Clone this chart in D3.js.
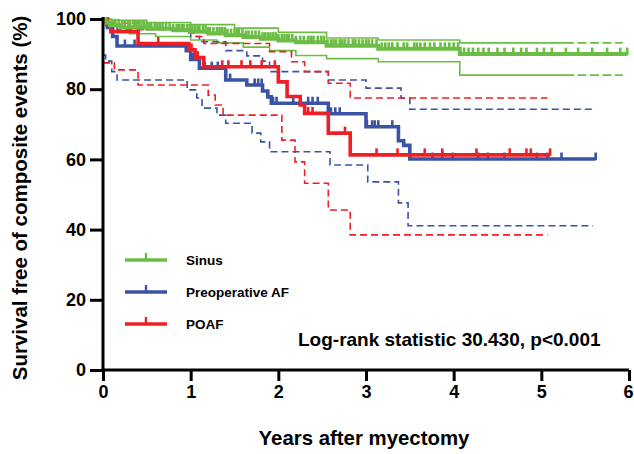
<!DOCTYPE html>
<html>
<head>
<meta charset="utf-8">
<script src="https://cdn.jsdelivr.net/npm/d3@7"></script>
<style>
  body { margin: 0; background: #fff; }
  svg { display: block; font-family: "Liberation Sans", Arial, sans-serif; }
</style>
</head>
<body>
<svg width="634" height="454"></svg>
<script>
// Kaplan-Meier estimates, [years, % event free]
const sinusKM = [[0,100],[0.03,99],[0.08,98.2],[0.2,97.6],[0.5,97.2],[0.8,96.8],[1.0,96.4],[1.2,95.9],[1.4,95.4],[1.6,94.9],[1.8,94.4],[2.0,93.9],[2.2,93.4],[2.55,92.4],[3.14,91.5],[4.07,90]]
const preopKM = [[0,100],[0.05,97.6],[0.11,95],[0.16,92.3],[0.95,91],[1.0,88.5],[1.1,86],[1.4,82.6],[1.64,81.2],[1.82,79.5],[1.88,77.8],[1.92,76],[2.57,73],[3.0,69.3],[3.37,65.3],[3.43,64],[3.5,60.1]]
const poafKM = [[0,100],[0.05,98.5],[0.09,96.4],[0.4,93],[0.98,91.2],[1.05,89],[1.15,86.4],[2.0,82.1],[2.1,77.9],[2.25,75.5],[2.3,73.1],[2.57,67.5],[2.82,61.3]]

// 95% confidence bands
const sinusUpper = [[0,100],[0.1,99.6],[0.5,99],[1.0,98.4],[1.5,97.4],[2.0,96.2],[2.55,94.6],[3.14,94],[4.07,93.2]]
const sinusLower = [[0,99],[0.03,98],[0.08,96.5],[0.3,95.8],[0.6,95],[1.0,94],[1.3,93.2],[1.6,92],[1.9,91],[2.2,89.6],[2.55,88.7],[3.14,87.8],[4.07,84]]
const preopUpper = [[0,100],[0.05,99.5],[0.11,98.5],[0.16,97],[0.95,96.5],[1.0,95],[1.1,93.5],[1.4,91],[1.64,89.5],[1.82,88],[1.9,85],[2.57,82.6],[3.0,80.3],[3.4,77.5],[3.5,74.3]]
const preopLower = [[0,89.7],[0.03,88],[0.1,85],[0.16,82.6],[0.96,79.8],[1.07,77.5],[1.13,74.6],[1.3,72.6],[1.4,70.3],[1.7,67.5],[1.8,65],[1.9,62.2],[2.59,58.4],[3.02,53.6],[3.37,47.6],[3.48,41.1]]
const poafUpper = [[0,100],[0.05,99.5],[0.09,98.8],[0.4,97],[0.98,96],[1.05,95],[1.15,93],[1.9,90.7],[2.15,87.8],[2.3,85],[2.57,81.7],[2.82,77.5]]
const poafLower = [[0,87.5],[0.13,85.5],[0.4,81.2],[1.2,78.3],[1.28,75.5],[1.37,72.6],[2.04,65.5],[2.19,59.3],[2.3,53.2],[2.57,45.6],[2.82,38.5]]

// follow-up end (years)
const sinusEnd = 5.98, preopEnd = 5.62, poafEnd = 5.1
const sinusCIEnd = 5.93, preopCIEnd = 5.59, poafCIEnd = 5.07
const sinusCISolidUntil = 5.27

// censored observations (years)
const sinusCensor = [0.1,0.14,0.18,0.22,0.25,0.29,0.31,0.35,0.38,0.41,0.44,0.47,0.5,0.53,0.55,0.59,0.62,0.65,0.68,0.72,0.76,0.8,0.84,0.87,0.9,0.92,0.96,0.99,1.02,1.05,1.08,1.1,1.14,1.17,1.2,1.22,1.26,1.3,1.33,1.36,1.39,1.42,1.46,1.5,1.53,1.55,1.59,1.63,1.66,1.7,1.74,1.78,1.82,1.85,1.88,1.91,1.94,1.97,2.0,2.04,2.07,2.1,2.12,2.16,2.2,2.25,2.29,2.34,2.37,2.4,2.45,2.49,2.52,2.56,2.6,2.63,2.66,2.7,2.73,2.76,2.8,2.85,2.88,2.92,2.96,3.0,3.03,3.07,3.12,3.18,3.22,3.26,3.3,3.36,3.43,3.47,3.55,3.58,3.62,3.67,3.73,3.78,3.85,3.9,3.95,4.0,4.05,4.12,4.17,4.22,4.28,4.34,4.4,4.5,4.58,4.68,4.77,4.83,4.95,5.03,5.12,5.28,5.42,5.58,5.75,5.9,5.98]
const preopCensor = [0.25,0.36,0.97,1.03,1.16,1.24,1.31,1.45,1.73,1.77,1.81,1.94,1.98,2.17,2.34,2.39,2.45,2.6,2.65,2.7,3.01,3.07,3.1,3.14,3.3,3.43,3.76,3.87,3.99,4.28,4.39,4.58,4.95,5.07,5.23,5.62]
const poafCensor = [0.63,1.01,1.08,1.36,1.43,1.58,1.68,1.81,1.96,2.34,2.39,2.76,3.12,3.36,3.67,3.87,4.26,4.64,4.83,4.88,5.1]

const groups = ['Sinus', 'Preoperative AF', 'POAF']
const colors = ['#6cbd45', '#3b53a4', '#ee1f26']
const xTicks = [0, 1, 2, 3, 4, 5, 6]
const yTicks = [0, 20, 40, 60, 80, 100]

const svg = d3.select('svg')

const x = d3.scaleLinear().domain([0, 6]).range([103, 629])
const y = d3.scaleLinear().domain([0, 100]).range([370, 19])

const stepLine = d3.line()
    .x(d => x(d[0]))
    .y(d => y(d[1]))
    .curve(d3.curveStepAfter)

function valueAt(series, t) {
    let i = d3.bisector(d => d[0]).right(series, t) - 1
    return series[Math.max(i, 0)][1]
}

function withEnd(series, end) {
    return series.concat([[end, series[series.length - 1][1]]])
}

function splitAt(series, end, cut) {
    let full = withEnd(series, end)
    let v = valueAt(series, cut)
    let first = full.filter(d => d[0] < cut).concat([[cut, v]])
    let second = [[cut, v]].concat(full.filter(d => d[0] > cut))
    return [first, second]
}

// confidence bands
let ciLayer = svg.append('g').attr('fill', 'none').attr('stroke-width', 1.6)

// sinus: solid through the last steps, dashed after
;[sinusUpper, sinusLower].forEach(s => {
    let parts = splitAt(s, sinusCIEnd, sinusCISolidUntil)
    ciLayer.append('path').attr('d', stepLine(parts[0])).attr('stroke', colors[0])
    ciLayer.append('path').attr('d', stepLine(parts[1])).attr('stroke', colors[0])
        .attr('stroke-dasharray', '9,3.5')
})

;[[preopUpper, preopCIEnd, 1], [preopLower, preopCIEnd, 1], [poafUpper, poafCIEnd, 2], [poafLower, poafCIEnd, 2]]
    .forEach(c => {
        ciLayer.append('path')
            .attr('d', stepLine(withEnd(c[0], c[1])))
            .attr('stroke', colors[c[2]])
            .attr('stroke-dasharray', '7,4')
    })

// survival curves with censor ticks
let curves = [
    {km: preopKM, end: preopEnd, censor: preopCensor, color: colors[1], width: 3.6},
    {km: poafKM, end: poafEnd, censor: poafCensor, color: colors[2], width: 3.6},
    {km: sinusKM, end: sinusEnd, censor: sinusCensor, color: colors[0], width: 4}
]

curves.forEach(c => {
    let g = svg.append('g')
    g.append('path')
        .attr('d', stepLine(withEnd(c.km, c.end)))
        .attr('fill', 'none')
        .attr('stroke', c.color)
        .attr('stroke-width', c.width)
    g.selectAll('line')
        .data(c.censor)
        .enter()
        .append('line')
        .attr('x1', d => x(d))
        .attr('x2', d => x(d))
        .attr('y1', d => y(valueAt(c.km, d)) + 1)
        .attr('y2', d => y(valueAt(c.km, d)) - 6.5)
        .attr('stroke', c.color)
        .attr('stroke-width', 2.6)
})

// axes
let yAxis = svg.append('g')
    .attr('transform', 'translate(103,0)')
    .call(d3.axisLeft(y).tickValues(yTicks).tickSize(13).tickPadding(4))
let xAxis = svg.append('g')
    .attr('transform', 'translate(0,370)')
    .call(d3.axisBottom(x).tickValues(xTicks).tickFormat(d3.format('d')).tickSize(11).tickPadding(4))

;[xAxis, yAxis].forEach(a => {
    a.select('.domain').attr('stroke', '#000').attr('stroke-width', 3)
    a.selectAll('.tick line').attr('stroke', '#000').attr('stroke-width', 3)
    a.selectAll('.tick text')
        .attr('fill', '#000')
        .style('font-size', '18px')
        .style('font-weight', 'bold')
        .style('font-family', '"Liberation Sans", Arial, sans-serif')
})
yAxis.select('.domain').attr('d', 'M0,370V17')
xAxis.select('.domain').attr('d', 'M101.5,0H629')
xAxis.selectAll('.tick text').filter(d => d === 6).attr('dx', -1)

svg.append('text')
    .attr('transform', 'translate(27,198) rotate(-90)')
    .attr('text-anchor', 'middle')
    .style('font-size', '20.5px')
    .style('font-weight', 'bold')
    .text('Survival free of composite events (%)')

svg.append('text')
    .attr('x', 364)
    .attr('y', 445)
    .attr('text-anchor', 'middle')
    .style('font-size', '20.4px')
    .style('font-weight', 'bold')
    .text('Years after myectomy')

// legend
let legend = svg.selectAll('.legend')
    .data(groups)
    .enter()
    .append('g')
    .attr('class', 'legend')
    .attr('transform', (d, i) => 'translate(125,' + (260 + i * 32) + ')')

legend.append('line')
    .attr('x1', 0).attr('x2', 42)
    .attr('stroke', (d, i) => colors[i])
    .attr('stroke-width', 3.4)
legend.append('line')
    .attr('x1', 21).attr('x2', 21)
    .attr('y1', 0).attr('y2', -7)
    .attr('stroke', (d, i) => colors[i])
    .attr('stroke-width', 2.4)
legend.append('text')
    .attr('x', 61)
    .attr('y', 5)
    .style('font-size', '13.5px')
    .style('font-weight', 'bold')
    .text(d => d)

svg.append('text')
    .attr('x', 298)
    .attr('y', 346)
    .style('font-size', '19px')
    .style('font-weight', 'bold')
    .text('Log-rank statistic 30.430, p<0.001')
</script>
</body>
</html>
